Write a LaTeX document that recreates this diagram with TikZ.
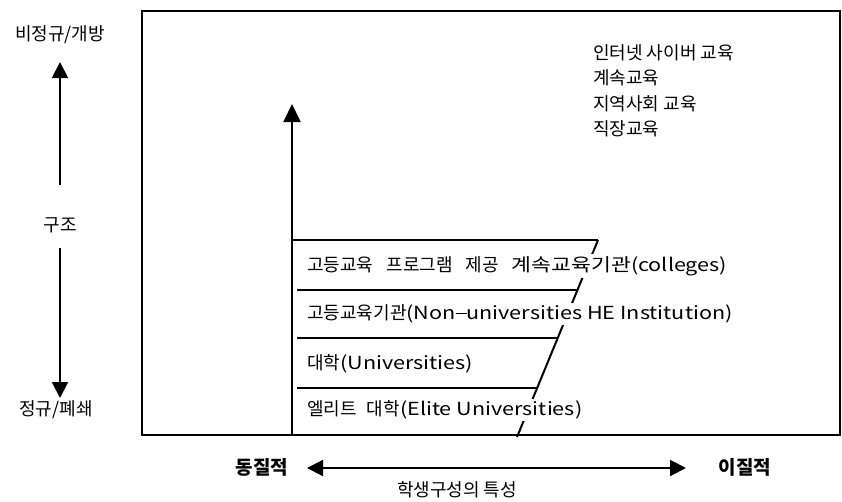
\documentclass[tikz,border=0pt]{standalone}
\usepackage{fontspec}
\setmainfont{Noto Sans CJK KR}
\newfontfamily\latf[FakeStretch=1.2]{Noto Sans CJK KR}
\usetikzlibrary{arrows.meta}
\newcommand{\wgap}{\hspace{13pt}}
\begin{document}
\begin{tikzpicture}[x=1pt,y=-1pt,
  lw/.style={line width=2pt},
  bigtip/.style={-{Triangle[length=18pt,width=17pt]}},
  lbl/.style={font=\fontsize{18}{21}\selectfont, inner sep=1pt},
  boldlbl/.style={font=\bfseries\fontsize{19}{22}\selectfont, inner sep=1pt},
  rowtxt/.style={lbl, anchor=west, fill=white, inner sep=2pt}
]
\useasboundingbox (0,0) rectangle (842,501);
% frame
\draw[lw] (142,11) rectangle (840,435);
% vertical axis
\coordinate (ax0) at (292,435);
\coordinate (ax1) at (292,104);
\draw[lw, bigtip] (ax0) -- (ax1);
% slanted line
\coordinate (s0) at (598,240);
\coordinate (s1) at (517,437);
\draw[lw] (s0) -- (s1);
% horizontal lines
\coordinate (h1a) at (292,240); \coordinate (h1b) at (598,240);
\coordinate (h2a) at (297,290); \coordinate (h2b) at (577.5,290);
\coordinate (h3a) at (297,338); \coordinate (h3b) at (557.8,338);
\coordinate (h4a) at (297,388); \coordinate (h4b) at (537.3,388);
\draw[lw] (h1a) -- (h1b);
\draw[lw] (h2a) -- (h2b);
\draw[lw] (h3a) -- (h3b);
\draw[lw] (h4a) -- (h4b);
% row texts
\node[rowtxt] (r1) at (305,266) {고등교육\wgap 프로그램\wgap 제공\wgap{\latf 계속교육기관(colleges)}};
\node[rowtxt] (r2) at (305,314) {고등교육기관{\latf(Non{\rule[0.3em]{0.6em}{0.08em}}universities HE Institution)}};
\node[rowtxt] (r3) at (305,364) {대학{\latf(Universities)}};
\node[rowtxt] (r4) at (305,410) {엘리트\hspace{10pt}대학{\latf(Elite Universities)}};
% top right list
\node[lbl, anchor=north west, align=left, font=\fontsize{18}{25.5}\selectfont] (tl) at (592,43)
  {인터넷 사이버 교육\\계속교육\\지역사회 교육\\직장교육};
% left axis
\node[lbl] (open) at (60,35) {비정규/개방};
\node[lbl] (str) at (60,225) {구조};
\node[lbl] (closed) at (56,410) {정규/폐쇄};
\coordinate (ua0) at (60,185);
\coordinate (ua1) at (60,62);
\coordinate (da0) at (60,248);
\coordinate (da1) at (60,398);
\draw[lw, -{Triangle[length=16pt,width=16pt]}] (ua0) -- (ua1);
\draw[lw, -{Triangle[length=16pt,width=16pt]}] (da0) -- (da1);
% bottom axis
\node[boldlbl] (homo) at (262,467) {동질적};
\node[boldlbl] (hetero) at (745,467) {이질적};
\node[lbl] (stu) at (457,490) {학생구성의 특성};
\coordinate (bl) at (307,468);
\coordinate (br) at (686,468);
\draw[lw, {Triangle[length=16pt,width=16pt]}-{Triangle[length=16pt,width=16pt]}] (bl) -- (br);
\end{tikzpicture}
\end{document}
